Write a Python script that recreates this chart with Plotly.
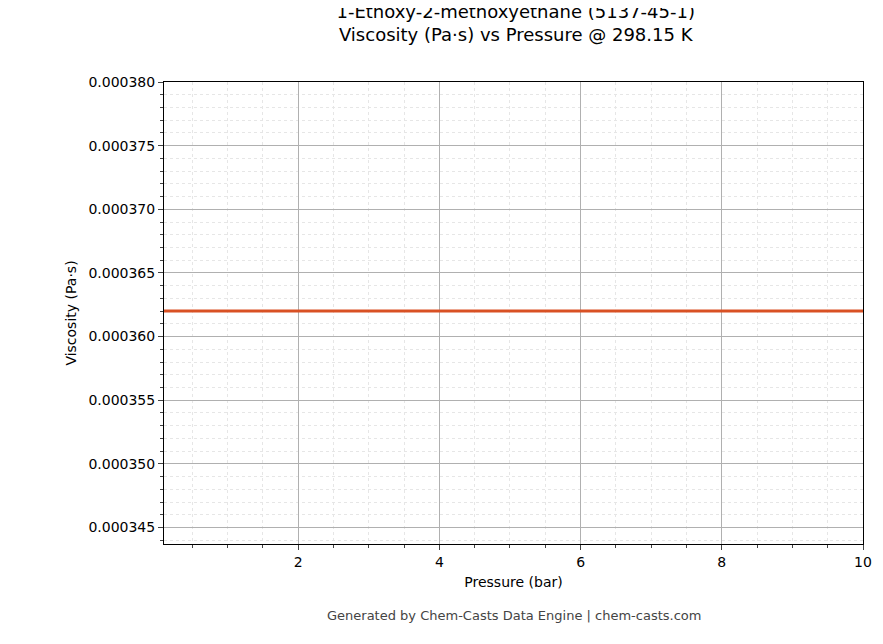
import plotly.graph_objects as go

pressure = [0.1, 1, 2, 3, 4, 5, 6, 7, 8, 9, 10]
viscosity = [0.000362] * len(pressure)

fig = go.Figure(go.Scatter(x=pressure, y=viscosity, mode="lines",
                           line=dict(color="#d95124", width=3)))
fig.update_layout(
    width=883, height=644, plot_bgcolor="white", paper_bgcolor="white",
    margin=dict(l=156, r=28, t=74, b=108, autoexpand=False),
    font=dict(family="DejaVu Sans", size=14, color="black"),
    title=dict(text="1-Ethoxy-2-methoxyethane (5137-45-1)<br>Viscosity (Pa·s) vs Pressure @ 298.15 K",
               x=0.575, xanchor="center", y=0.985, yanchor="top", font=dict(size=18)),
    showlegend=False,
    annotations=[dict(text="Generated by Chem-Casts Data Engine | chem-casts.com", xref="paper", yref="paper",
                      x=0.5, y=-0.135, yanchor="top", showarrow=False, font=dict(size=13, color="#444"))],
)
common = dict(showline=True, linecolor="black", mirror=True, ticks="outside", ticklen=5,
              gridcolor="#b0b0b0", gridwidth=0.8, zeroline=False, automargin=False,
              tickfont=dict(size=14), title_font=dict(size=14))
fig.update_xaxes(range=[0.1, 10], dtick=2, tick0=0, title_text="Pressure (bar)", title_standoff=8,
                 minor=dict(dtick=0.5, ticks="outside", ticklen=3, showgrid=True, gridcolor="#e6e6e6", griddash="dot"),
                 **common)
fig.update_yaxes(range=[0.0003437, 0.00038], dtick=0.000005, tick0=0, tickformat=".6f",
                 title_text="Viscosity (Pa·s)", title_standoff=8,
                 minor=dict(dtick=0.000001, ticks="outside", ticklen=3, showgrid=True, gridcolor="#e6e6e6", griddash="dot"),
                 **common)
fig.write_html("out.html")
